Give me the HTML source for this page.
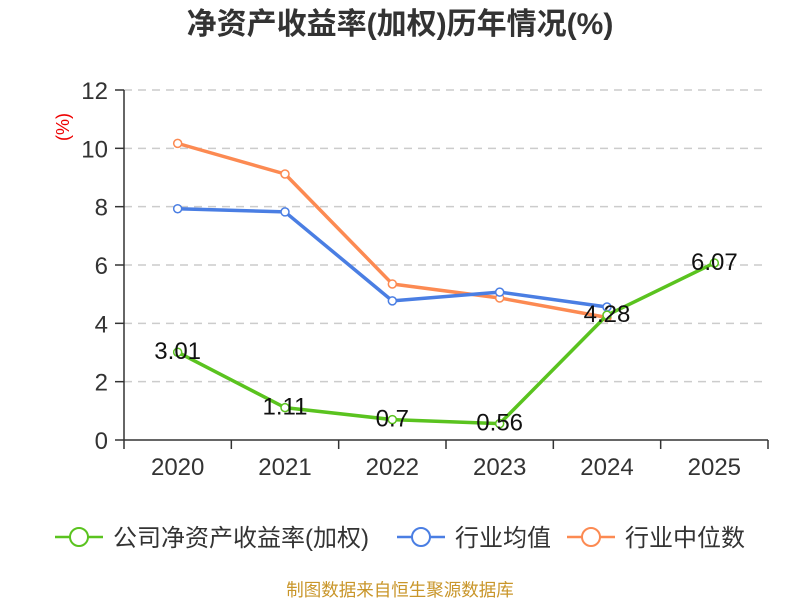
<!DOCTYPE html>
<html><head><meta charset="utf-8"><style>
body{margin:0;background:#fff;}
svg text{font-family:"Liberation Sans","Noto Sans CJK SC",sans-serif;}
</style></head><body>
<svg id="chart" width="800" height="600">
<text x="400" y="34" text-anchor="middle" font-size="30" font-weight="bold" fill="#333">净资产收益率(加权)历年情况(%)</text>
<text transform="translate(69,127) rotate(-90)" text-anchor="middle" font-size="18" fill="#e00">(%)</text>
<g id="grid"></g><g id="axes"></g><g id="series"></g>
<g id="legend"></g>
<text x="400" y="596" text-anchor="middle" font-size="17.5" fill="#c9962a">制图数据来自恒生聚源数据库</text>
</svg>
<script>
const categories=["2020","2021","2022","2023","2024","2025"];
const yTicks=[0,2,4,6,8,10,12];
const companyRoe=[3.01,1.11,0.7,0.56,4.28,6.07];
const industryAvg=[7.93,7.82,4.77,5.07,4.56,null];
const industryMedian=[10.17,9.12,5.35,4.87,4.2,null];
const companyLabels=["3.01","1.11","0.7","0.56","4.28","6.07"];
const ns="http://www.w3.org/2000/svg";
const X0=124,X1=768,Y0=440,Y1=90;
const bw=(X1-X0)/categories.length;
const xs=i=>X0+bw*(i+0.5);
const ys=v=>Y0-(v/12)*(Y0-Y1);
function mk(tag,attrs,parent){const e=document.createElementNS(ns,tag);for(const k in attrs)e.setAttribute(k,attrs[k]);parent.appendChild(e);return e;}
const grid=document.getElementById('grid'),axes=document.getElementById('axes'),series=document.getElementById('series'),legend=document.getElementById('legend');
yTicks.forEach(t=>{
 if(t>0){const l=mk('line',{x1:X0,x2:X1,y1:ys(t),y2:ys(t),stroke:'#ccc','stroke-dasharray':'8,6','stroke-width':1.5},grid);
 
 }
 const tk=mk('line',{x1:X0-9,x2:X0,y1:ys(t),y2:ys(t),stroke:'#333','stroke-width':1.5},axes);
 
 
 const tx=mk('text',{x:X0-16,y:ys(t)+9,'text-anchor':'end','font-size':24,fill:'#333'},axes);tx.textContent=t;
 
 
});
const ya=mk('line',{x1:X0,x2:X0,y1:Y1,y2:Y0,stroke:'#333','stroke-width':1.5},axes);


const xa=mk('line',{x1:X0,x2:X1,y1:Y0,y2:Y0,stroke:'#333','stroke-width':1.5},axes);


for(let i=0;i<=categories.length;i++){const t=mk('line',{x1:X0+bw*i,x2:X0+bw*i,y1:Y0,y2:Y0+9,stroke:'#333','stroke-width':1.5},axes);
 
 }
categories.forEach((c,i)=>{const t=mk('text',{x:xs(i),y:Y0+35,'text-anchor':'middle','font-size':24,fill:'#333'},axes);t.textContent=c;
 
 });
function draw(vals,color,name){
 const pts=vals.map((v,i)=>v==null?null:[xs(i),ys(v)]).filter(p=>p);
 const pl=mk('polyline',{points:pts.map(p=>p.join(',')).join(' '),fill:'none',stroke:color,'stroke-width':3.5,'stroke-linejoin':'round'},series);
 
 
 pts.forEach(p=>{const c=mk('circle',{cx:p[0],cy:p[1],r:4,fill:'#fff',stroke:color,'stroke-width':1.5},series);
 
 });
}
draw(industryMedian,'#fc8a52','industry-median');
draw(industryAvg,'#4a7ee3','industry-avg');
draw(companyRoe,'#5ac31f','company-roe');
companyRoe.forEach((v,i)=>{const t=mk('text',{x:xs(i),y:ys(v)+7,'text-anchor':'middle','font-size':24,fill:'#111'},series);t.textContent=companyLabels[i];
 
 });
const leg=[["公司净资产收益率(加权)",'#5ac31f',55],["行业均值",'#4a7ee3',397],["行业中位数",'#fc8a52',567]];
leg.forEach(([txt,col,x])=>{
 const g=mk('g',{},legend);
 
 
 mk('line',{x1:x,x2:x+48,y1:537,y2:537,stroke:col,'stroke-width':2.5},g);
 mk('circle',{cx:x+24,cy:537,r:9,fill:'#fff',stroke:col,'stroke-width':2},g);
 const t=mk('text',{x:x+58,y:546,'font-size':24,fill:'#333'},g);t.textContent=txt;
});
</script>
</body></html>
